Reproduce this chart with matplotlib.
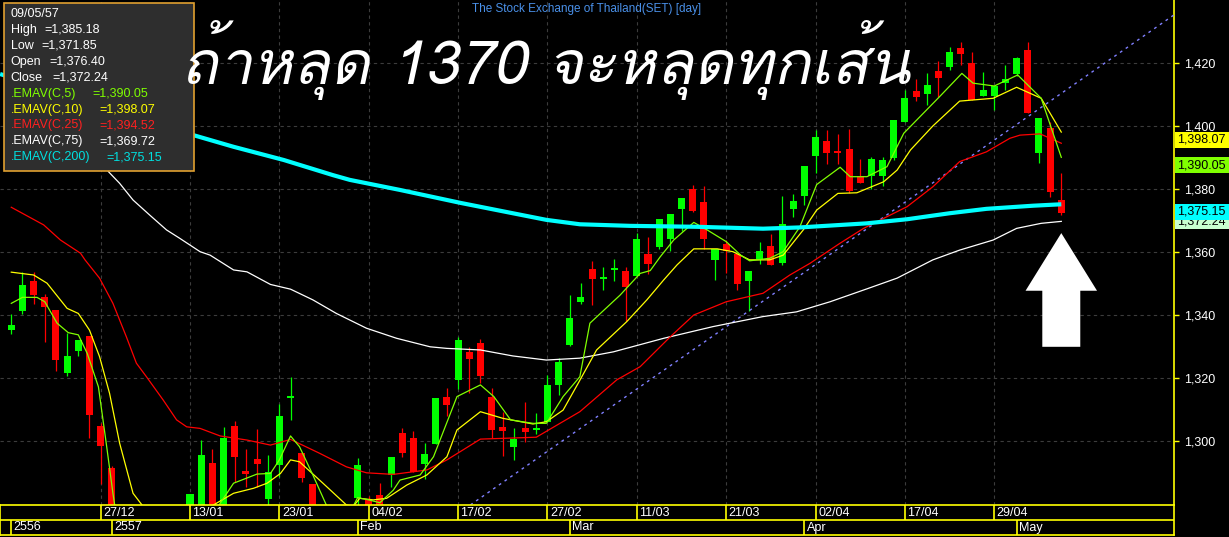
import matplotlib
matplotlib.use('Agg')
import matplotlib.pyplot as plt
import matplotlib.transforms as mtransforms
import numpy as np
from matplotlib import font_manager
from matplotlib.ft2font import FT2Font
from matplotlib.patches import Rectangle, FancyArrow

# ---- data (SET index, daily) ----
nan = np.nan
opens = [1335.2, 1341.4, 1350.9, 1345.8, 1341.6, 1321.7, 1328.7, 1333.3, 1304.9, 1291.5,
         nan, nan, nan, nan, nan, nan,
         1265.0, 1275.0, 1293.0, 1278.5, 1304.8, 1290.5, 1294.3, 1281.7, 1292.5, 1313.7,
         1296.2, 1286.3, nan, nan, nan,
         1282.0, 1281.2, 1282.9, 1289.1, 1302.5, 1301.0, 1292.7, 1299.1, 1314.0, 1319.3,
         1328.3, 1331.1, 1314.0, 1304.4, 1298.2, 1304.1, 1303.6, 1306.0, 1317.8, 1330.5,
         1344.1, 1354.6, 1351.4, 1354.3, 1354.1, 1352.4, 1359.4, 1361.5, 1364.2, 1373.7,
         1380.0, 1375.9, 1357.6, 1362.5, 1359.4, 1350.9, 1357.8, 1361.9, 1356.5, 1373.7,
         1377.8, 1390.5, 1395.2, 1392.1, 1392.7, 1384.1, 1384.1, 1384.1, 1389.8, 1401.3,
         1411.1, 1410.2, 1417.5, 1418.7, 1424.8, 1420.0, 1409.5, 1409.5, 1413.7, 1416.5,
         1424.1, 1391.4, 1399.4, 1376.40]
highs = [1340.3, 1353.6, 1353.6, 1346.6, 1341.6, 1334.4, 1332.1, 1333.3, 1305.6, 1292.2,
         nan, nan, nan, nan, nan, nan,
         1283.2, 1300.3, 1297.5, 1304.4, 1306.3, 1297.5, 1303.8, 1295.6, 1311.7, 1320.4,
         1296.2, 1286.3, nan, nan, nan,
         1294.6, 1282.6, 1286.7, 1294.9, 1304.1, 1303.3, 1299.4, 1313.7, 1316.8, 1333.1,
         1329.8, 1332.3, 1316.8, 1309.3, 1304.0, 1312.4, 1309.0, 1320.9, 1326.3, 1346.3,
         1350.2, 1357.2, 1355.3, 1357.8, 1355.3, 1366.1, 1364.8, 1370.5, 1372.1, 1377.1,
         1381.3, 1381.0, 1361.0, 1363.8, 1359.4, 1354.0, 1363.3, 1365.6, 1377.8, 1378.4,
         1387.3, 1398.7, 1398.7, 1397.5, 1399.0, 1389.5, 1390.2, 1390.2, 1401.9, 1411.4,
         1414.9, 1416.8, 1420.6, 1425.1, 1426.7, 1423.5, 1417.1, 1412.7, 1419.4, 1421.9,
         1426.7, 1402.5, 1401.3, 1385.18]
lows = [1334.0, 1340.3, 1343.5, 1331.5, 1322.3, 1320.7, 1327.0, 1301.0, 1286.3, 1225.0,
        nan, nan, nan, nan, nan, nan,
        1262.0, 1272.0, 1272.0, 1276.0, 1287.1, 1285.5, 1285.5, 1278.5, 1288.6, 1306.7,
        1287.1, 1268.0, nan, nan, nan,
        1279.0, 1274.0, 1277.0, 1285.4, 1294.9, 1290.2, 1287.9, 1299.1, 1307.9, 1316.5,
        1315.1, 1318.3, 1301.0, 1295.3, 1294.1, 1299.6, 1302.3, 1306.0, 1314.7, 1330.2,
        1343.5, 1343.2, 1347.9, 1350.9, 1338.1, 1352.4, 1353.0, 1361.0, 1360.4, 1366.8,
        1372.6, 1361.0, 1351.2, 1353.4, 1347.9, 1341.4, 1356.2, 1355.9, 1355.9, 1371.1,
        1374.9, 1385.1, 1387.9, 1387.9, 1378.7, 1381.9, 1380.0, 1381.0, 1389.2, 1401.3,
        1407.9, 1406.7, 1409.2, 1417.8, 1419.4, 1408.3, 1409.5, 1405.1, 1411.4, 1415.9,
        1404.1, 1388.3, 1377.5, 1371.85]
closes = [1336.8, 1349.5, 1346.3, 1342.6, 1325.7, 1327.0, 1332.1, 1308.3, 1298.5, 1231.0,
          nan, nan, nan, nan, nan, nan,
          1283.2, 1295.6, 1277.0, 1301.0, 1294.9, 1289.6, 1292.8, 1290.2, 1307.9, 1314.3,
          1288.3, 1274.0, nan, nan, nan,
          1292.4, 1277.0, 1279.5, 1294.9, 1296.2, 1290.2, 1295.9, 1313.7, 1311.4, 1332.1,
          1326.0, 1320.6, 1303.6, 1303.3, 1300.6, 1302.9, 1304.1, 1317.8, 1325.1, 1339.0,
          1345.8, 1351.4, 1352.1, 1354.9, 1348.9, 1364.1, 1356.2, 1370.5, 1372.1, 1377.1,
          1372.9, 1364.2, 1361.0, 1360.3, 1349.8, 1354.0, 1360.3, 1355.9, 1368.9, 1376.2,
          1387.3, 1396.5, 1391.4, 1391.4, 1379.4, 1381.9, 1389.5, 1389.2, 1401.9, 1408.9,
          1409.2, 1413.0, 1415.2, 1423.5, 1422.9, 1408.3, 1411.4, 1412.7, 1414.9, 1421.6,
          1404.1, 1402.5, 1379.0, 1372.24]

# moving averages, sampled along each line (bar index, value)
ema5_x = [0, 1, 2.3, 3, 4.1, 5.1, 6, 6.8, 7.8, 8.5, 9.1, 10, 11, 12, 13, 14, 15, 16, 17, 18,
          19.9, 22, 23.2, 24, 25, 25.8, 27, 28.2, 29, 30, 31, 32, 33, 34.2, 34.8, 36.6, 37.8,
          39.9, 42, 43.2, 44.7, 46.7, 47.9, 49.4, 50.9, 51.8, 54.5, 56.3, 57.2, 58.1, 59.3,
          61.1, 62.3, 64, 65.3, 66.1, 67.9, 69.1, 70.6, 72.1, 74.2, 75.1, 76.6, 78.4, 79.9,
          83.1, 85.1, 86.1, 88, 90.1, 92.2, 94]
ema5_y = [1343.7, 1345.6, 1345.6, 1344.2, 1337.4, 1334.4, 1333.7, 1327.8, 1317.2, 1299.3,
          1283.4, 1262, 1252, 1249, 1250, 1253, 1258, 1266, 1276, 1276.5,
          1286.6, 1289.5, 1289.7, 1294.0, 1301.6, 1298.2, 1289.2, 1279.7, 1274, 1275, 1282.0,
          1281.3, 1280.4, 1284.4, 1287.6, 1289.2, 1295.0,
          1314.1, 1317.8, 1314.1, 1306.7, 1305.6, 1305.6, 1314.1, 1320.4, 1337.4, 1346.3,
          1353.2, 1354.1, 1358.5, 1363.8, 1369.4, 1367.0, 1363.3, 1359.0, 1357.2, 1358.0,
          1360.1, 1368.0, 1381.4, 1386.9, 1383.9, 1383.9, 1387.1, 1397.7,
          1409.3, 1416.7, 1413.6, 1412.7, 1416.2, 1408.8, 1390.05]

ema10_x = [0, 2, 3.2, 5, 6, 7, 7.9, 8.8, 9.7, 10.9, 11.7, 13, 15, 16, 17, 18.1, 19.9, 21.7,
           22.9, 24.1, 25, 25.8, 27.9, 30, 30.6, 31.2, 32.4, 33.6, 35.4, 37.2, 39, 39.9,
           42, 44, 46.7, 47.9, 49.4, 50.7, 52.4, 55.1, 56.9, 58.4, 59.6, 61.1, 63.2, 64.6,
           66.1, 67.9, 69.1, 70.9, 72.1, 74, 75.7, 78.1, 79.3, 80.5, 82.5, 84.9, 87.9, 90,
           92.2, 94]
ema10_y = [1353.6, 1352.7, 1350.1, 1342.1, 1340.5, 1335.2, 1326.8, 1315.1, 1299.3, 1283.4,
           1279.7, 1272, 1266, 1268, 1273, 1279.7, 1283.4, 1285.0,
           1286.6, 1289.7, 1294.0, 1293.4, 1286.6, 1279.7, 1279.2, 1281.8, 1281.3, 1281.8,
           1286.0, 1289.2, 1295.0, 1303.5,
           1309.3, 1307.2, 1305.4, 1306.1, 1309.8, 1318.0, 1328.9, 1337.9, 1344.8, 1351.1,
           1355.9, 1361.0, 1361.0, 1360.1, 1357.5, 1357.5, 1359.0, 1367.0, 1373.3, 1378.6,
           1378.8, 1382.3, 1386.0, 1392.4, 1400.0, 1407.9, 1408.8, 1412.3, 1408.8, 1398.07]

ema25_x = [0, 2.9, 4.4, 6.2, 6.6, 7.9, 9.1, 10.3, 11.2, 12.1, 13.6, 14.8, 15.7, 16.9, 18.7,
           21.1, 23.2, 25, 27.6, 30, 31.8, 34.2, 37.2, 39, 42, 47, 50.9, 54.2, 56.3, 59,
           61.1, 64, 67.3, 69.7, 71.5, 74.2, 76.3, 80.2, 82.5, 84.9, 87.3, 89.4, 90.3, 92.1, 94]
ema25_y = [1374.2, 1368.6, 1363.8, 1359.6, 1357.5, 1351.7, 1343.7, 1333.1, 1324.7, 1320.4,
           1313.0, 1306.7, 1304.5, 1304.0, 1301.6, 1300.3, 1298.7, 1300.5, 1296.1, 1291.8,
           1289.9, 1289.4, 1290.8, 1294.0, 1300.6, 1301.2, 1309.3, 1319.4, 1323.6, 1333.1,
           1340.0, 1344.2, 1346.9, 1352.7, 1356.4, 1362.8, 1367.5, 1374.4, 1380.7, 1388.7,
           1391.8, 1396.1, 1397.1, 1397.5, 1394.52]

ema75_x = [7.5, 8.7, 9.7, 10.9, 12.4, 13.9, 15.1, 16.9, 17.8, 19.9, 21.1, 23.2, 25, 27, 29.1,
           31.8, 34.5, 37.5, 39, 42, 44.9, 47.9, 50.9, 53.9, 58.4, 62.8, 67.3, 70.3, 73.3,
           76.6, 79.3, 82.5, 84.9, 87.9, 90, 92.2, 94]
ema75_y = [1392.0, 1385.5, 1381.8, 1376.5, 1371.7, 1367.0, 1364.3, 1360.1, 1359.0, 1354.3,
           1353.7, 1349.7, 1348.2, 1344.8, 1340.5, 1335.8, 1332.6, 1329.9, 1329.4, 1328.9,
           1327.0, 1325.7, 1326.3, 1328.3, 1332.6, 1336.3, 1339.5, 1341.0, 1344.2, 1348.3,
           1351.7, 1357.5, 1360.6, 1363.8, 1367.5, 1369.1, 1369.72]

ema200_x = [-1, 16.3, 19.9, 24.4, 28.8, 30.3, 34.8, 40.2, 44.9, 47.9, 50.9, 55.4, 61.4,
            67.3, 70.6, 76.6, 80.2, 84, 87.3, 91.5, 94]
ema200_y = [1416.5, 1397.1, 1393.4, 1389.2, 1384.4, 1382.9, 1379.7, 1375.6, 1372.3, 1370.2,
            1368.8, 1368.3, 1368.0, 1367.4, 1367.8, 1369.1, 1370.4, 1372.3, 1373.7, 1374.7,
            1375.15]

trend_x = [41.1, 104.1]
trend_y = [1279.7, 1435.3]

date_bars = [8, 16, 24, 32, 40, 48, 56, 64, 72, 80, 88]
date_labels = ['27/12', '13/01', '23/01', '04/02', '17/02', '27/02',
               '11/03', '21/03', '02/04', '17/04', '29/04']
period_bars = [0, 9, 31, 50, 71, 90]
period_labels = ['2556', '2557', 'Feb', 'Mar', 'Apr', 'May']

y_ticks = [1300, 1320, 1340, 1360, 1380, 1400, 1420]

legend_rows = [('High', '=1,385.18'), ('Low', '=1,371.85'), ('Open', '=1,376.40'),
               ('Close', '=1,372.24'), ('.EMAV(C,5)', '=1,390.05'), ('.EMAV(C,10)', '=1,398.07'),
               ('.EMAV(C,25)', '=1,394.52'), ('.EMAV(C,75)', '=1,369.72'),
               ('.EMAV(C,200)', '=1,375.15')]
legend_colors = ['white', 'white', 'white', 'white', '#80ff00', '#ffff00', '#ff2020',
                 'white', '#00e0e0']
legend_value_x = [44, 41, 49, 52, 92, 99, 99, 99, 106]

# price boxes on the right axis: (value, text, box colour)
price_tags = [(1372.24, '1,372.24', '#c8ffd0'), (1375.15, '1,375.15', '#00ffff'),
              (1390.05, '1,390.05', '#80ff00'), (1398.07, '1,398.07', '#ffff00')]


def thai_font():
    # first installed family that can draw Thai, preferring Loma
    names = []
    for f in font_manager.fontManager.ttflist:
        try:
            if FT2Font(f.fname).get_char_index(ord('ห')):
                names.append(f.name)
        except Exception:
            continue
    if 'Loma' in names:
        return 'Loma'
    return names[0] if names else 'DejaVu Sans'


W, H = 1229, 537
fig = plt.figure(figsize=(W / 100, H / 100), dpi=100, facecolor='black')
plt.rcParams['font.family'] = ['Liberation Sans', 'DejaVu Sans']
FS = 9

ax = fig.add_axes([0, 32 / H, 1174 / W, 505 / H], facecolor='black')
ax.set_xlim(-1.01, 104.09)
ax.set_ylim(1279.68, 1440)
for s in ['left', 'top', 'bottom']:
    ax.spines[s].set_visible(False)
ax.spines['right'].set_color('#ffff00')
ax.spines['right'].set_linewidth(1.2)
ax.yaxis.tick_right()
ax.set_yticks(y_ticks)
ax.set_yticklabels([f'{v:,}' for v in y_ticks])
ax.tick_params(axis='y', colors='#ffff00', labelcolor='white', length=3.6, width=1,
               pad=4, labelsize=FS)
ax.set_xticks([])

grid_kw = dict(color='#3c3c3c', lw=0.8, ls=(0, (3, 3)), zorder=0)
for v in y_ticks:
    ax.axhline(v, **grid_kw)
for b in date_bars:
    ax.axvline(b, **grid_kw)

# candles
o = np.array(opens); h = np.array(highs); l = np.array(lows); c = np.array(closes)
idx = np.arange(len(c))
ok = ~np.isnan(c)
col = np.where(c >= o, '#00ff00', '#ff0000')
ax.vlines(idx[ok], l[ok], h[ok], colors=col[ok], lw=0.9, zorder=2)
ax.bar(idx[ok], (c - o)[ok], bottom=o[ok], width=0.63, color=col[ok], lw=0, zorder=3)

# averages and trend line
ax.plot(trend_x, trend_y, color='#8080ff', lw=1, ls=(0, (2, 3)), zorder=4)
ax.plot(ema75_x, ema75_y, color='white', lw=0.9, zorder=4)
ax.plot(ema25_x, ema25_y, color='#ff0000', lw=0.9, zorder=4)
ax.plot(ema10_x, ema10_y, color='#ffff00', lw=0.9, zorder=4)
ax.plot(ema5_x, ema5_y, color='#80ff00', lw=0.9, zorder=4)
ax.plot(ema200_x, ema200_y, color='#00ffff', lw=3.0, zorder=4, solid_capstyle='butt')

# white arrow under the last bar
ax.add_patch(FancyArrow(idx[-1], 1329.9, 0, 36.1, width=3.4, head_width=6.4,
                        head_length=18.3, length_includes_head=True,
                        color='white', lw=0, zorder=6))

# price tags
tag_tr = mtransforms.blended_transform_factory(ax.transAxes, ax.transData)
for val, txt, fc in price_tags:
    ax.add_patch(Rectangle((1.0008, val - 4.9), 55 / 1174, 4.9, transform=tag_tr,
                           fc=fc, lw=0, clip_on=False, zorder=10))
    ax.text(1.0025, val - 2.45, txt, transform=tag_tr, color='black', fontsize=FS,
            va='center', ha='left', clip_on=False, zorder=10)

ax.text(0.5, 1 - 9 / 505, 'The Stock Exchange of Thailand(SET) [day]', transform=ax.transAxes,
        color='#4a90e8', fontsize=8.5, ha='center', va='center', zorder=7)

# info box
fig.add_artist(Rectangle((3.5 / W, 1 - 171 / H), 190 / W, 167.5 / H, transform=fig.transFigure,
                         fc='#2e2e2e', ec='#e0a030', lw=1.2, zorder=5))
fig.text(10.5 / W, 1 - 14 / H, '09/05/57', color='white', fontsize=FS, va='center', zorder=6)
for k, ((lab, val), cc, vx) in enumerate(zip(legend_rows, legend_colors, legend_value_x)):
    yy = 1 - (30 + 15.9 * k) / H
    fig.text(10.5 / W, yy, lab, color=cc, fontsize=FS, va='center', zorder=6)
    fig.text(vx / W, yy, val, color=cc, fontsize=FS, va='center', zorder=6)

# big comment text, drawn over the info box
fig.text(546 / W, 1 - 84 / H, 'ถ้าหลุด 1370 จะหลุดทุกเส้น', color='white', fontsize=44,
         style='oblique', ha='center', va='baseline', zorder=7,
         family=[thai_font(), 'DejaVu Sans'])

# date rows
ax2 = fig.add_axes([0, 2 / H, 1174 / W, 30 / H], facecolor='black')
ax2.set_xlim(-1.01, 104.09)
ax2.set_ylim(0, 2)
ax2.set_xticks([]); ax2.set_yticks([])
for s in ax2.spines.values():
    s.set_color('#ffff00'); s.set_linewidth(1.2)
ax2.axhline(1, color='#ffff00', lw=1.2)
ax2.vlines(date_bars, 1, 2, color='#ffff00', lw=1.2)
ax2.vlines(period_bars, 0, 1, color='#ffff00', lw=1.2)
for b, t in zip(date_bars, date_labels):
    ax2.text(b + 0.22, 1.5, t, color='white', fontsize=FS, va='center', ha='left')
for b, t in zip(period_bars, period_labels):
    ax2.text(b + 0.22, 0.5, t, color='white', fontsize=FS, va='center', ha='left')

fig.savefig('out.png', dpi=100, facecolor='black')
